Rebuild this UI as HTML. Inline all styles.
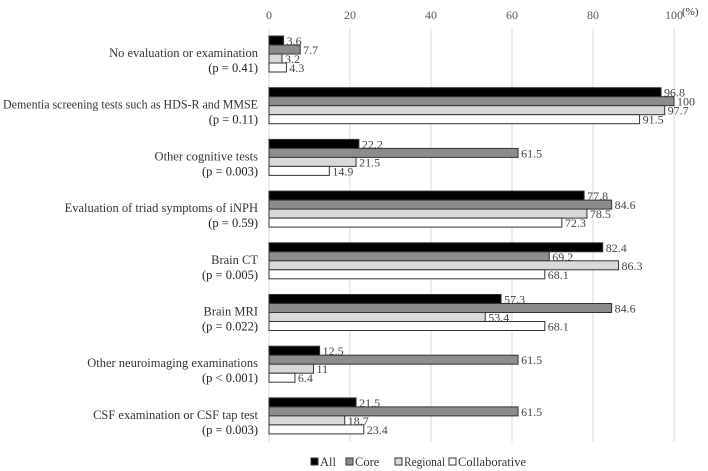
<!DOCTYPE html>
<html><head><meta charset="utf-8">
<style>
body{margin:0;background:#fff;}
svg{display:block;font-family:"Liberation Serif","DejaVu Serif",serif;}
</style></head>
<body>
<svg id="chart" width="708" height="471" viewBox="0 0 708 471"></svg>
<script>
const categories=["No evaluation or examination","Dementia screening tests such as HDS-R and MMSE","Other cognitive tests","Evaluation of triad symptoms of iNPH","Brain CT","Brain MRI","Other neuroimaging examinations","CSF examination or CSF tap test"];
const pValues=["(p = 0.41)","(p = 0.11)","(p = 0.003)","(p = 0.59)","(p = 0.005)","(p = 0.022)","(p < 0.001)","(p = 0.003)"];
const seriesNames=["All","Core","Regional","Collaborative"];
const allValues=[3.6,96.8,22.2,77.8,82.4,57.3,12.5,21.5];
const coreValues=[7.7,100,61.5,84.6,69.2,84.6,61.5,61.5];
const regionalValues=[3.2,97.7,21.5,78.5,86.3,53.4,11,18.7];
const collabValues=[4.3,91.5,14.9,72.3,68.1,68.1,6.4,23.4];
const ticks=[0,20,40,60,80,100];

const svg=document.getElementById('chart');
const NS='http://www.w3.org/2000/svg';
const x0=269, x1=674;
const xs=v=>x0+(x1-x0)*v/100;
const groupTop=i=>36+i*51.7;
const barH=9;
const fills=["#000","#8c8c8c","#d9d9d9","#fff"];
const series=[allValues,coreValues,regionalValues,collabValues];
function mk(tag,attrs){const e=document.createElementNS(NS,tag);for(const k in attrs)e.setAttribute(k,attrs[k]);svg.appendChild(e);return e;}
function fit(el,maxW){const w=el.getComputedTextLength();if(w>maxW){el.setAttribute('textLength',maxW);el.setAttribute('lengthAdjust','spacingAndGlyphs');}}

ticks.forEach(t=>{
  const g=mk('line',{x1:xs(t),x2:xs(t),y1:28,y2:442,stroke:'#d9d9d9','stroke-width':1});
  
  
  const tx=mk('text',{x:xs(t),y:19,'text-anchor':'middle','font-size':12,fill:'#595959'});
  tx.textContent=t;
  
  
});
const unit=mk('text',{x:682,y:15,'font-size':11,fill:'#333'});unit.textContent='(%)';



categories.forEach((c,i)=>{
  const top=groupTop(i);
  const l=mk('text',{x:258,y:top+21,'text-anchor':'end','font-size':12.5,fill:'#333'});l.textContent=c;
  
  
  fit(l,255);
  const p=mk('text',{x:258,y:top+36,'text-anchor':'end','font-size':12.5,fill:'#222'});p.textContent=pValues[i];
  
  
  series.forEach((s,j)=>{
    const y=top+j*barH;
    const r=mk('rect',{x:x0,y:y,width:xs(s[i])-x0,height:barH,fill:fills[j],stroke:'#333','stroke-width':1});
    
    
    const v=mk('text',{x:xs(s[i])+3,y:y+9,'font-size':12,fill:'#444'});v.textContent=s[i];
    
    
  });
});

let lx=311;
const legendGaps=[35,49,54,0];
const legendMaxW=[22,36,41,70];
seriesNames.forEach((n,j)=>{
  const r=mk('rect',{x:lx,y:458,width:7,height:7,fill:fills[j],stroke:'#333','stroke-width':1});
  
  
  const t=mk('text',{x:lx+9,y:466,'font-size':12.5,fill:'#333'});t.textContent=n;
  
  
  fit(t,legendMaxW[j]);
  lx+=legendGaps[j];
});
</script>
</body></html>
